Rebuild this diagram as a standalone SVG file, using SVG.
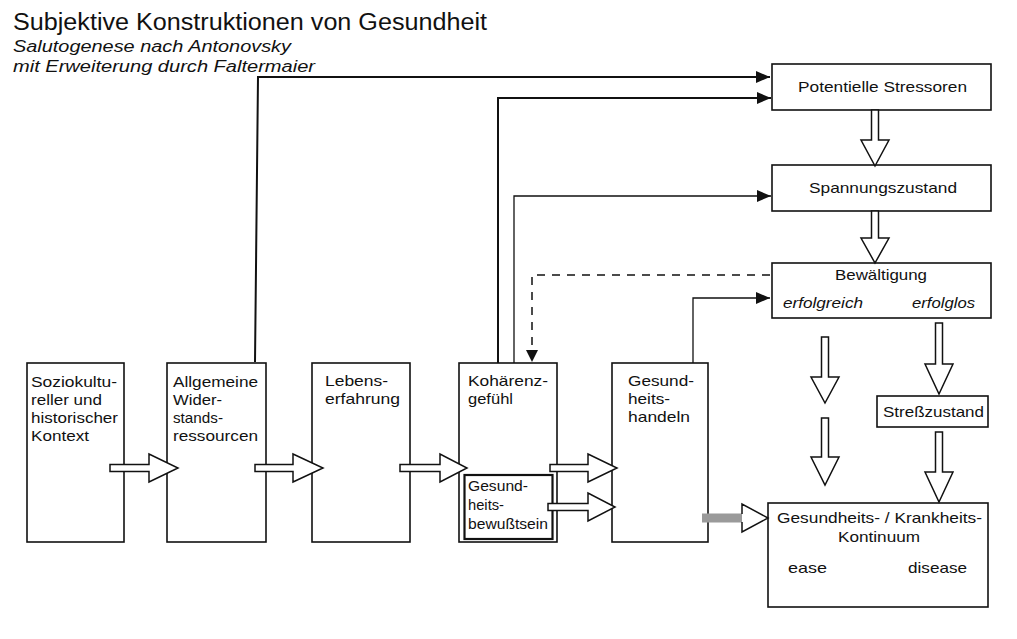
<svg xmlns="http://www.w3.org/2000/svg" width="1017" height="639" viewBox="0 0 1017 639">
<defs>
<style>
.box{fill:#fff;stroke:#111;stroke-width:1.6}
.t{font-family:"Liberation Sans",Arial,sans-serif;font-size:15px;fill:#111}
.ti{font-family:"Liberation Sans",Arial,sans-serif;font-size:15px;font-style:italic;fill:#111}
.ha{fill:#fff;stroke:#111;stroke-width:1.5;stroke-linejoin:miter}
.ln{fill:none;stroke:#111}
</style>
<marker id="ah" markerUnits="userSpaceOnUse" markerWidth="14" markerHeight="12" refX="14" refY="6" orient="auto">
<path d="M0,0 L14,6 L0,12 Z" fill="#111"/>
</marker>
</defs>
<rect width="1017" height="639" fill="#fff"/>

<g id="title">
<text x="13" y="30" font-family="Liberation Sans,Arial,sans-serif" font-size="23" fill="#111" textLength="474" lengthAdjust="spacingAndGlyphs">Subjektive Konstruktionen von Gesundheit</text>
<text x="13" y="52" class="ti" style="font-size:16px" textLength="278" lengthAdjust="spacingAndGlyphs">Salutogenese nach Antonovsky</text>
<text x="13" y="72" class="ti" style="font-size:16px" textLength="302" lengthAdjust="spacingAndGlyphs">mit Erweiterung durch Faltermaier</text>
</g>

<g id="n1">
<rect class="box" x="27" y="363" width="97" height="179"/>
<text class="t" x="31" y="387" textLength="86" lengthAdjust="spacingAndGlyphs">Soziokultu-</text>
<text class="t" x="31" y="405" textLength="71" lengthAdjust="spacingAndGlyphs">reller und</text>
<text class="t" x="31" y="423" textLength="87" lengthAdjust="spacingAndGlyphs">historischer</text>
<text class="t" x="31" y="441" textLength="58" lengthAdjust="spacingAndGlyphs">Kontext</text>
</g>

<g id="n2">
<rect class="box" x="167" y="363" width="99" height="179"/>
<text class="t" x="173" y="387" textLength="85" lengthAdjust="spacingAndGlyphs">Allgemeine</text>
<text class="t" x="173" y="405" textLength="49" lengthAdjust="spacingAndGlyphs">Wider-</text>
<text class="t" x="173" y="423" textLength="50" lengthAdjust="spacingAndGlyphs">stands-</text>
<text class="t" x="173" y="441" textLength="85" lengthAdjust="spacingAndGlyphs">ressourcen</text>
</g>

<g id="n3">
<rect class="box" x="312" y="363" width="98" height="179"/>
<text class="t" x="325" y="386" textLength="63" lengthAdjust="spacingAndGlyphs">Lebens-</text>
<text class="t" x="325" y="404" textLength="75" lengthAdjust="spacingAndGlyphs">erfahrung</text>
</g>

<g id="n4">
<rect class="box" x="459" y="363" width="98" height="179"/>
<text class="t" x="468" y="386" textLength="80" lengthAdjust="spacingAndGlyphs">Kohärenz-</text>
<text class="t" x="468" y="404" textLength="45" lengthAdjust="spacingAndGlyphs">gefühl</text>
</g>

<g id="n4b">
<rect x="464.5" y="475" width="88" height="64" fill="#fff" stroke="#111" stroke-width="2.2"/>
<text class="t" x="468" y="491" textLength="60" lengthAdjust="spacingAndGlyphs">Gesund-</text>
<text class="t" x="468" y="510" textLength="36" lengthAdjust="spacingAndGlyphs">heits-</text>
<text class="t" x="468" y="529" textLength="80" lengthAdjust="spacingAndGlyphs">bewußtsein</text>
</g>

<g id="n5">
<rect class="box" x="612" y="363" width="96" height="179"/>
<text class="t" x="628" y="386" textLength="66" lengthAdjust="spacingAndGlyphs">Gesund-</text>
<text class="t" x="628" y="404" textLength="42" lengthAdjust="spacingAndGlyphs">heits-</text>
<text class="t" x="628" y="422" textLength="62" lengthAdjust="spacingAndGlyphs">handeln</text>
</g>

<g id="n6">
<rect class="box" x="772" y="64" width="219" height="46"/>
<text class="t" x="798" y="92" textLength="169" lengthAdjust="spacingAndGlyphs">Potentielle Stressoren</text>
</g>

<g id="n7">
<rect class="box" x="772" y="165" width="219" height="46"/>
<text class="t" x="809" y="193" textLength="148" lengthAdjust="spacingAndGlyphs">Spannungszustand</text>
</g>

<g id="n8">
<rect class="box" x="772" y="263" width="219" height="55"/>
<text class="t" x="835" y="280" textLength="92" lengthAdjust="spacingAndGlyphs">Bewältigung</text>
<text class="ti" x="783" y="308" textLength="80" lengthAdjust="spacingAndGlyphs">erfolgreich</text>
<text class="ti" x="912" y="308" textLength="63" lengthAdjust="spacingAndGlyphs">erfolglos</text>
</g>

<g id="n9">
<rect class="box" x="877" y="396" width="111" height="31"/>
<text class="t" x="883" y="417" textLength="101" lengthAdjust="spacingAndGlyphs">Streßzustand</text>
</g>

<g id="n10">
<rect class="box" x="768" y="503" width="220" height="104"/>
<text class="t" x="777" y="523" textLength="205" lengthAdjust="spacingAndGlyphs">Gesundheits- / Krankheits-</text>
<text class="t" x="838" y="542" textLength="82" lengthAdjust="spacingAndGlyphs">Kontinuum</text>
<text class="t" x="788" y="573" textLength="39" lengthAdjust="spacingAndGlyphs">ease</text>
<text class="t" x="908" y="573" textLength="59" lengthAdjust="spacingAndGlyphs">disease</text>
</g>

<g id="connectors">
<polyline class="ln" stroke-width="2" points="255,362 258,77 770,77" marker-end="url(#ah)"/>
<polyline class="ln" stroke-width="2" points="498,363 498,98 771,98" marker-end="url(#ah)"/>
<polyline class="ln" stroke-width="1.3" points="514,363 514,196 771,196" marker-end="url(#ah)"/>
<polyline class="ln" stroke-width="1.5" stroke-dasharray="8,7" points="770,275 532,275 532,350"/>
<path d="M526,350 L538,350 L532,362 Z" fill="#111"/>
<polyline class="ln" stroke-width="1.3" points="693,363 693,298 770,298" marker-end="url(#ah)"/>

<path class="ha" d="M110,464.5 L149,464.5 L149,454 L178,468 L149,482 L149,471.5 L110,471.5 Z"/>
<path class="ha" d="M255,464.5 L293,464.5 L293,454 L323,468 L293,482 L293,471.5 L255,471.5 Z"/>
<path class="ha" d="M400,464.5 L440,464.5 L440,454 L467,468 L440,482 L440,471.5 L400,471.5 Z"/>
<path class="ha" d="M550,464.5 L588,464.5 L588,454 L617,468 L588,482 L588,471.5 L550,471.5 Z"/>
<path class="ha" stroke-width="2.2" d="M548,503.5 L588,503.5 L588,493 L615,507 L588,521 L588,510.5 L548,510.5 Z"/>
<rect x="702" y="513.5" width="41" height="9" fill="#9a9a9a"/>
<path class="ha" d="M742,514 L742,504 L768,518 L742,532 L742,522"/>

<path class="ha" d="M871.5,110 L871.5,140 L861,140 L875,166 L889,140 L878.5,140 L878.5,110 Z"/>
<path class="ha" d="M871.5,211 L871.5,238 L861,238 L875,263 L889,238 L878.5,238 L878.5,211 Z"/>
<path class="ha" d="M821.5,337 L821.5,377 L811,377 L825,403 L839,377 L828.5,377 L828.5,337 Z"/>
<path class="ha" d="M821.5,418 L821.5,457 L811,457 L825,485 L839,457 L828.5,457 L828.5,418 Z"/>
<path class="ha" d="M935.5,323 L935.5,364 L925,364 L939,394 L953,364 L942.5,364 L942.5,323 Z"/>
<path class="ha" d="M935.5,432 L935.5,472 L925,472 L939,502 L953,472 L942.5,472 L942.5,432 Z"/>
</g>
</svg>
